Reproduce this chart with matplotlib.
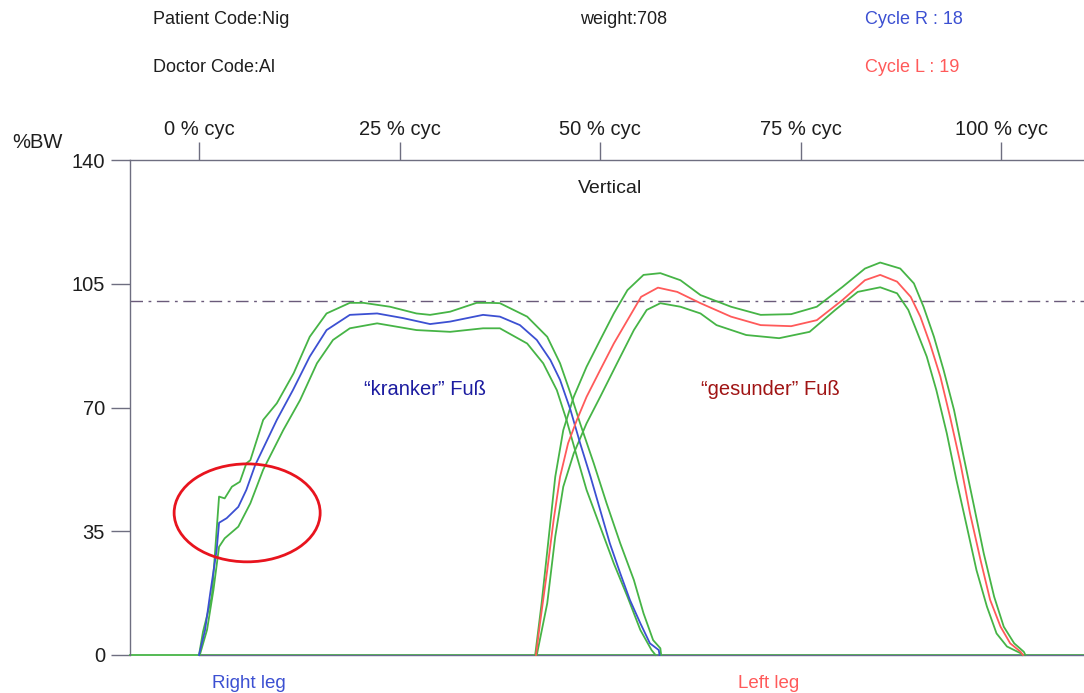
import matplotlib.pyplot as plt
from matplotlib.patches import Ellipse

plt.rcParams['font.family'] = ['Liberation Sans', 'DejaVu Sans']

# right leg ("kranker" Fuss): mean curve and green band
right_mean_x = [0, 0.75, 1.4, 2.2, 2.5, 3.45, 4.9, 5.9, 7.0, 9.7, 11.7, 13.8, 15.9, 18.8, 22.2, 25.4,
                28.8, 31.3, 35.4, 37.5, 40.0, 42.1, 43.8, 45.0, 46.3, 47.5, 48.8, 50.0, 51.2, 52.5,
                53.7, 55.0, 56.2, 57.3, 57.4]
right_mean_y = [0, 7, 17.5, 29.7, 37.4, 38.7, 41.9, 46.7, 53.7, 66.5, 74.9, 84.4, 91.9, 96.2, 96.6, 95.3,
                93.6, 94.3, 96.2, 95.7, 93.3, 89.1, 83.4, 77.8, 69.3, 59.9, 50.4, 41.0, 31.6, 23.1,
                15.6, 9.0, 3.3, 1.4, 0]
right_upper_x = [0, 0.5, 1.6, 2.5, 3.2, 4.1, 5.1, 5.9, 6.4, 8.0, 9.7, 11.8, 13.8, 15.9, 18.8, 20.5, 23.8,
                 27.1, 28.8, 31.3, 34.6, 36.3, 37.5, 40.9, 43.4, 45.0, 46.3, 47.5, 49.2, 50.8, 52.5,
                 54.2, 55.4, 56.6, 57.5, 57.6]
right_upper_y = [0, 6.6, 16.5, 44.8, 44.3, 47.6, 49.0, 54.2, 55.1, 66.5, 71.2, 79.7, 90.0, 96.6, 99.6, 99.6, 98.5,
                 96.6, 96.2, 97.1, 99.6, 99.6, 99.5, 95.7, 90.0, 82.5, 74.0, 65.5, 54.2, 42.9, 31.6,
                 21.2, 11.8, 4.2, 1.9, 0]
right_lower_x = [0.1, 1.0, 1.8, 2.5, 3.2, 4.9, 6.4, 8.0, 10.5, 12.6, 14.7, 16.7, 18.8, 22.2, 27.1, 31.3,
                 35.4, 37.5, 40.9, 42.9, 44.6, 45.8, 47.1, 48.3, 50.0, 51.7, 53.4, 55.0, 56.4, 56.9]
right_lower_y = [0, 7.1, 18.4, 30.6, 33.0, 36.3, 42.9, 52.4, 63.6, 72.1, 82.5, 89.1, 92.4, 93.8, 91.9, 91.4,
                 92.4, 92.4, 88.1, 82.5, 74.9, 66.5, 56.1, 46.7, 36.3, 25.9, 16.5, 7.1, 1.4, 0]

# left leg ("gesunder" Fuss)
left_mean_x = [42.0, 42.5, 43.4, 44.2, 45.0, 46.0, 47.1, 48.3, 50.0, 51.7, 53.4, 55.1, 57.2, 59.6, 62.5,
               66.3, 70.0, 73.8, 77.0, 80.2, 83.0, 84.9, 87.0, 88.7, 89.9, 91.1, 92.4, 93.6, 94.9,
               96.1, 97.4, 98.6, 99.9, 101.1, 102.4, 102.7]
left_mean_y = [0, 9.0, 24.0, 38.2, 50.4, 59.9, 66.5, 73.0, 80.6, 88.1, 94.7, 101.3, 103.9, 102.7, 99.5,
               95.7, 93.3, 93.0, 94.7, 100.4, 106.0, 107.5, 105.6, 101.3, 95.7, 88.1, 78.7, 67.4, 54.2,
               40.0, 26.9, 15.6, 8.0, 3.3, 0.9, 0]
left_upper_x = [41.9, 42.7, 43.6, 44.4, 45.4, 46.7, 48.3, 50.0, 51.7, 53.4, 55.4, 57.5, 60.0, 62.5, 66.3,
                70.0, 73.8, 77.0, 80.2, 83.0, 84.9, 87.4, 89.1, 90.3, 91.6, 92.8, 94.1, 95.3, 96.6,
                97.8, 99.1, 100.3, 101.6, 102.8, 103.0]
left_upper_y = [0, 14.6, 33.5, 50.4, 63.6, 73.0, 81.5, 89.1, 96.6, 103.2, 107.5, 108.0, 106.0, 101.8, 98.5,
                96.2, 96.4, 98.5, 104.1, 109.3, 111.0, 109.3, 105.1, 98.5, 90.0, 80.6, 69.3, 56.1, 42.0,
                28.8, 16.5, 8.0, 3.3, 0.9, 0]
left_lower_x = [42.1, 43.4, 44.4, 45.4, 46.7, 48.3, 50.0, 52.1, 54.2, 55.8, 57.5, 60.0, 62.5, 64.5, 68.2,
                72.3, 76.1, 79.3, 82.1, 84.9, 87.0, 88.4, 89.4, 90.7, 91.9, 93.2, 94.4, 95.7, 96.9,
                98.2, 99.4, 100.7, 102.4, 102.6]
left_lower_y = [0, 14.6, 33.5, 47.6, 57.0, 65.5, 73.0, 82.5, 91.9, 97.6, 99.5, 98.5, 96.6, 93.3, 90.5,
                89.6, 91.4, 97.6, 102.7, 104.0, 102.3, 97.6, 91.9, 84.4, 74.9, 62.7, 49.5, 36.3, 24.0,
                13.7, 6.1, 2.4, 0.5, 0]

reference_bw = 100
cycle_ticks = [0, 25, 50, 75, 100]
cycle_labels = ['0 % cyc', '25 % cyc', '50 % cyc', '75 % cyc', '100 % cyc']
bw_ticks = [0, 35, 70, 105, 140]

green = '#46b446'
blue = '#3c50d2'
red = '#ff5a5a'
axis_col = '#6e6e80'
ink = '#1e1e1e'

fig = plt.figure(figsize=(10.84, 6.93), dpi=100)
ax = fig.add_axes([130 / 1084, 38 / 693, 954 / 1084, 495 / 693])
ax.set_xlim(-8.6, 110.3)
ax.set_ylim(0, 140)

ax.axhline(0, color=green, lw=1.3, clip_on=False, zorder=2)
ax.plot([0, 110.3], [0, 0], color='#6a6a90', lw=1.0, clip_on=False, zorder=3)
ax.axhline(reference_bw, color='#6a5a7a', lw=1.0, dashes=(9, 4, 2, 4))

for xs, ys in [(right_upper_x, right_upper_y), (right_lower_x, right_lower_y),
               (left_upper_x, left_upper_y), (left_lower_x, left_lower_y)]:
    ax.plot(xs, ys, color=green, lw=1.3, clip_on=False, zorder=4)
ax.plot(right_mean_x, right_mean_y, color=blue, lw=1.3, clip_on=False, zorder=5)
ax.plot(left_mean_x, left_mean_y, color=red, lw=1.3, clip_on=False, zorder=5)

ax.add_patch(Ellipse((6.0, 40.2), 18.2, 27.7, fill=False, edgecolor='#e8141e', lw=2, zorder=6))

ax.text(51.2, 132, 'Vertical', ha='center', va='center', fontsize=14, color=ink)
ax.text(28.2, 75, '\u201ckranker\u201d Fu\u00df', ha='center', va='center', fontsize=14.5, color='#1c1ca0')
ax.text(71.2, 75, '\u201cgesunder\u201d Fu\u00df', ha='center', va='center', fontsize=14.5, color='#a01414')

for side in ['right', 'bottom']:
    ax.spines[side].set_visible(False)
for side in ['top', 'left']:
    ax.spines[side].set_color(axis_col)
    ax.spines[side].set_linewidth(1.0)

ax.xaxis.tick_top()
ax.set_xticks(cycle_ticks)
ax.set_xticklabels(cycle_labels)
ax.set_yticks(bw_ticks)
ax.tick_params(axis='x', direction='out', length=13, width=1, color=axis_col, pad=2,
               labelsize=14.5, labelcolor=ink)
ax.tick_params(axis='y', direction='out', length=14, width=1, color=axis_col, pad=4,
               labelsize=14.5, labelcolor=ink)

fig.text(37 / 1084, 1 - 143 / 693, '%BW', ha='center', va='center', fontsize=14.5, color=ink)
fig.text(153 / 1084, 1 - 20 / 693, 'Patient Code:Nig', ha='left', va='center', fontsize=13, color=ink)
fig.text(153 / 1084, 1 - 67 / 693, 'Doctor Code:Al', ha='left', va='center', fontsize=13, color=ink)
fig.text(580 / 1084, 1 - 20 / 693, 'weight:708', ha='left', va='center', fontsize=13, color=ink)
fig.text(865 / 1084, 1 - 20 / 693, 'Cycle R : 18', ha='left', va='center', fontsize=13, color=blue)
fig.text(865 / 1084, 1 - 67 / 693, 'Cycle L : 19', ha='left', va='center', fontsize=13, color=red)
fig.text(249 / 1084, 1 - 683 / 693, 'Right leg', ha='center', va='center', fontsize=13.5, color=blue)
fig.text(769 / 1084, 1 - 683 / 693, 'Left leg', ha='center', va='center', fontsize=13.5, color=red)

fig.savefig('out.png', dpi=100)
